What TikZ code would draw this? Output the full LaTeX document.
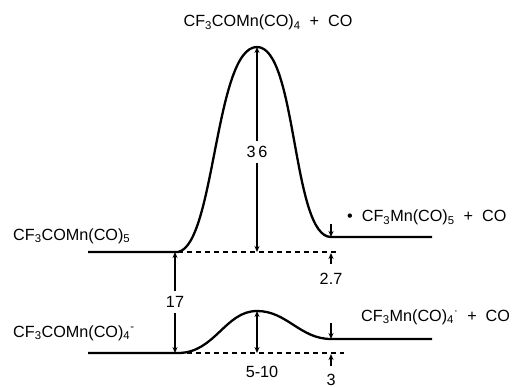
\documentclass[tikz,border=0pt]{standalone}
\usepackage{fontspec}
\setmainfont{Liberation Sans}
\usetikzlibrary{arrows.meta}
\usetikzlibrary{positioning}

\begin{document}
\begin{tikzpicture}[x=1pt,y=-1pt,
  level/.style={line width=2.3pt},
  refline/.style={line width=1.4pt, dash pattern=on 5pt off 4pt},
  gap/.style={line width=1.3pt, -{Stealth[length=6pt,width=5pt]}},
  gapboth/.style={line width=1.3pt, {Stealth[length=6pt,width=5pt]}-{Stealth[length=6pt,width=5pt]}},
  lbl/.style={inner sep=0pt, font=\fontsize{16.2}{19}\selectfont},
  gaplbl/.style={lbl, inner ysep=5pt},
]
\useasboundingbox (0,0) rectangle (521,387);

%---------------------------------------
% Shared positions
%---------------------------------------
\def\xL{88}     % left end of levels
\def\xA{178}    % start of barriers
\def\xT{257}    % transition states
\def\xB{331}    % products
\def\xR{432}    % right end of levels

\def\yA{252}    % CF3COMn(CO)5
\def\yTa{47}    % upper transition state
\def\yBa{237}   % CF3Mn(CO)5 + CO
\def\yC{353}    % CF3COMn(CO)4-
\def\yTc{311}   % lower transition state
\def\yBc{339}   % CF3Mn(CO)4 + CO

%====================================================
% UPPER PROFILE: neutral complex
%====================================================
\coordinate (A0) at (\xL,\yA);
\coordinate (A1) at (\xA,\yA);
\coordinate (TSa) at (\xT,\yTa);
\coordinate (Ba) at (\xB,\yBa);
\coordinate (Ba2) at (\xR,\yBa);
\coordinate (Aend) at (338,\yA);
\coordinate (Abase) at (\xT,\yA);

% Level and barrier
\draw[level] (A0) -- (A1)
  .. controls (215,245) and (215,\yTa) .. (TSa)
  .. controls (297,\yTa) and (292,\yBa) .. (Ba) -- (Ba2);
\draw[refline] (A1) -- (Aend);

% Labels
\node[lbl, anchor=base] (tsa) at (268,27)
  {CF\textsubscript{3}COMn(CO)\textsubscript{4}\ \ +\ \ CO};
\node[lbl, anchor=base west] (reacta) at (13,240)
  {CF\textsubscript{3}COMn(CO)\textsubscript{5}};
\node[lbl, anchor=base west] (proda) at (347,222)
  {\textbullet\ \ CF\textsubscript{3}Mn(CO)\textsubscript{5}\ \ +\ \ CO};

% Barrier height 36
\node[gaplbl] (e36) at (\xT,152) {3\,6};
\draw[gap] (e36) -- (TSa);
\draw[gap] (e36) -- (Abase);

% Reaction energy 2.7
\coordinate (d27top) at (\xB,224);
\coordinate (d27bot) at (\xB,264);
\coordinate (d27dash) at (\xB,\yA+1);
\node[lbl, anchor=base] (e27) at (\xB,284) {2.7};
\draw[gap] (d27top) -- (Ba);
\draw[gap] (d27bot) -- (d27dash);

%====================================================
% LOWER PROFILE: anion
%====================================================
\coordinate (C0) at (\xL,\yC);
\coordinate (C1) at (\xA,\yC);
\coordinate (TSc) at (\xT,\yTc);
\coordinate (Bc) at (\xB,\yBc);
\coordinate (Bc2) at (\xR,\yBc);
\coordinate (Cend) at (344,\yC);
\coordinate (Cbase) at (\xT,\yC);

% Level and barrier
\draw[level] (C0) -- (C1)
  .. controls (215,\yC) and (225,\yTc) .. (TSc)
  .. controls (287,\yTc) and (300,\yBc) .. (Bc) -- (Bc2);
\draw[refline] (C1) -- (Cend);

% Labels
\node[lbl, anchor=base west] (reactc) at (13,337)
  {CF\textsubscript{3}COMn(CO)\textsubscript{4}\textsuperscript{-}};
\node[lbl, anchor=base west] (prodc) at (361,321)
  {CF\textsubscript{3}Mn(CO)\textsubscript{4}\textsuperscript{·}\ \ +\ \ CO};

% Barrier height 5-10
\draw[gapboth] (Cbase) -- (TSc);
\node[lbl, anchor=base] (e510) at (262,377) {5-10};

% Reaction energy 3
\coordinate (d3top) at (\xB,323);
\coordinate (d3bot) at (\xB,366);
\coordinate (d3dash) at (\xB,\yC+1);
\node[lbl, anchor=base] (e3) at (\xB,385) {3};
\draw[gap] (d3top) -- (Bc);
\draw[gap] (d3bot) -- (d3dash);

%====================================================
% Gap between the two reactants: 17
%====================================================
\coordinate (g17top) at (175,\yA);
\coordinate (g17bot) at (175,\yC);
\node[gaplbl] (e17) at (175,302) {17};
\draw[gap] (e17) -- (g17top);
\draw[gap] (e17) -- (g17bot);

\end{tikzpicture}
\end{document}
